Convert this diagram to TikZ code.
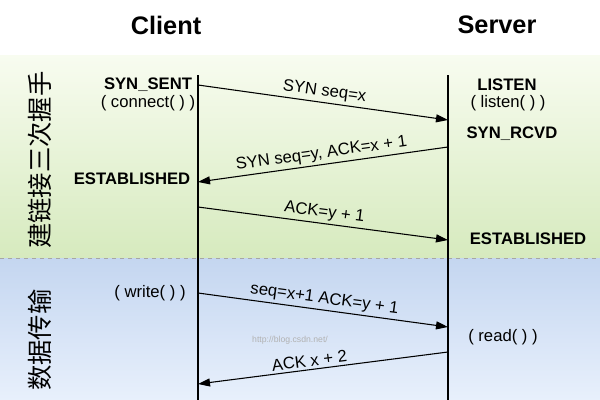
\documentclass[tikz,border=0pt]{standalone}
\usepackage{fontspec}
\setmainfont{Liberation Sans}
\newfontfamily\cjk{Noto Sans CJK SC}
\usetikzlibrary{arrows.meta}
\definecolor{gtop}{RGB}{248,252,240}
\definecolor{gbot}{RGB}{214,234,190}
\definecolor{btop}{RGB}{196,214,240}
\definecolor{bbot}{RGB}{232,240,252}
\begin{document}
\begin{tikzpicture}[x=0.75pt,y=-0.75pt,
  msg/.style={-{Triangle[length=9pt,width=6pt]},line width=0.8pt},
  lbl/.style={font=\fontsize{12.5}{14}\selectfont,sloped,above,inner sep=2pt},
  st/.style={font=\bfseries\fontsize{12.5}{14}\selectfont,inner sep=1pt},
  fn/.style={font=\fontsize{12.5}{14}\selectfont,inner sep=1pt},
  hd/.style={font=\bfseries\fontsize{19}{22}\selectfont},
  vt/.style={font=\cjk\fontsize{19}{22}\selectfont,rotate=90}]
\useasboundingbox (0,0) rectangle (600,400);
\fill[white] (0,0) rectangle (600,55);
\shade[top color=gtop,bottom color=gbot] (0,55) rectangle (600,258);
\shade[top color=btop,bottom color=bbot] (0,258) rectangle (600,400);
\draw[gray!70,dashed] (0,258) -- (600,258);
\node[hd] (client) at (166,25) {Client};
\node[hd] (server) at (497,25) {Server};
\coordinate (ct) at (198,75); \coordinate (cb) at (198,400);
\coordinate (stp) at (448,75); \coordinate (sb) at (448,400);
\draw[line width=0.8pt] (ct) -- (cb);
\draw[line width=0.8pt] (stp) -- (sb);
\node[vt] (t1) at (40,160) {建链接三次握手};
\node[vt] (t2) at (40,340) {数据传输};
\node[st] (synsent) at (148,85) {SYN\_SENT};
\node[fn] (connect) at (148,103) {( connect( ) )};
\node[st] (listen) at (507,85) {LISTEN};
\node[fn] (lsn) at (508,103) {( listen( ) )};
\node[st] (rcvd) at (512,134) {SYN\_RCVD};
\node[st] (est1) at (132,179) {ESTABLISHED};
\node[st] (est2) at (528,239) {ESTABLISHED};
\node[fn] (write) at (150,293) {( write( ) )};
\node[fn] (read) at (503,337) {( read( ) )};
\node[font=\fontsize{6.5}{7}\selectfont,gray!60] (wm) at (290,340) {http://blog.csdn.net/};
\coordinate (a1) at (198,85); \coordinate (b1) at (448,120);
\coordinate (a2) at (448,147); \coordinate (b2) at (198,182);
\coordinate (a3) at (198,207); \coordinate (b3) at (448,240);
\coordinate (a4) at (198,293); \coordinate (b4) at (448,327);
\coordinate (a5) at (448,352); \coordinate (b5) at (198,384);
\draw[msg] (a1) -- node[lbl] {SYN seq=x} (b1);
\draw[msg] (a2) -- node[lbl] {SYN seq=y, ACK=x + 1} (b2);
\draw[msg] (a3) -- node[lbl] {ACK=y + 1} (b3);
\draw[msg] (a4) -- node[lbl] {seq=x+1 ACK=y + 1} (b4);
\draw[msg] (a5) -- node[lbl,pos=0.55] {ACK x + 2} (b5);
\end{tikzpicture}
\end{document}
